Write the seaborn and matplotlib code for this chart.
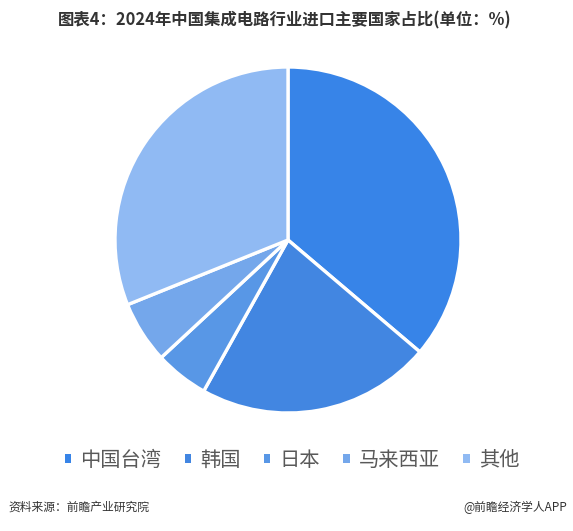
import matplotlib
matplotlib.use('Agg')
import matplotlib.pyplot as plt
from matplotlib.patches import Patch
import seaborn as sns

sns.set_theme(style='white')
plt.rcParams['font.family'] = ['Noto Sans CJK SC', 'DejaVu Sans']

# data (share of imports, %)
regions = ['中国台湾', '韩国', '日本', '马来西亚', '其他']
shares = [36.2, 21.9, 5.0, 5.8, 31.1]
colors = ['#3784E8', '#4286E1', '#5897E6', '#74A7EB', '#90BAF3']

fig = plt.figure(figsize=(5.73, 5.31), dpi=100)
fig.patch.set_facecolor('white')

# pie centered at (288, 240) px with radius ~173 px
cx, cy, r = 288 / 573, 1 - 240 / 531, 173
w, h = 2 * r / 573, 2 * r / 531
ax = fig.add_axes([cx - w / 2, cy - h / 2, w, h])
ax.pie(shares, colors=colors, startangle=90, counterclock=False,
       wedgeprops=dict(edgecolor='white', linewidth=2.4))
ax.set_xlim(-1, 1)
ax.set_ylim(-1, 1)
ax.set_aspect('equal')

fig.text(285 / 573, 1 - 20 / 531, '图表4：2024年中国集成电路行业进口主要国家占比(单位：%)',
         ha='center', va='center', fontsize=11.8, fontweight='bold', color='#333333')

handles = [Patch(facecolor=c, edgecolor='none') for c in colors]
fig.legend(handles, regions, loc='center', bbox_to_anchor=(292 / 573, 1 - 460 / 531),
           ncol=5, frameon=False, fontsize=14.6, handlelength=0.32, handleheight=0.32,
           handletextpad=0.45, columnspacing=1.15, labelcolor='#595959')

fig.text(8 / 573, 1 - 507 / 531, '资料来源：前瞻产业研究院', ha='left', va='center',
         fontsize=8.5, color='#333333')
fig.text(567 / 573, 1 - 507 / 531, '@前瞻经济学人APP', ha='right', va='center',
         fontsize=8.5, color='#333333')

fig.savefig('out.png', dpi=100, facecolor='white')
